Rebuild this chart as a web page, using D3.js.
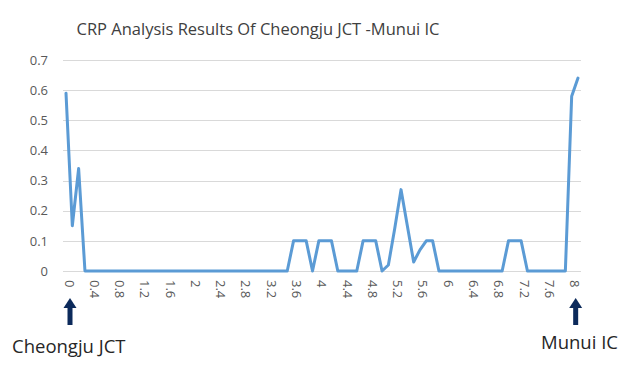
<!DOCTYPE html>
<html>
<head>
<meta charset="utf-8">
<script src="https://cdn.jsdelivr.net/npm/d3@7"></script>
<style>
  html, body { margin: 0; padding: 0; background: #fff; }
  svg { display: block; font-family: "Open Sans", "Noto Sans", sans-serif; }
</style>
</head>
<body>
<svg id="chart" width="632" height="366"></svg>
<script>
const title = "CRP Analysis Results Of Cheongju JCT -Munui IC";

const categories = [
  "0","0.1","0.2","0.3","0.4","0.5","0.6","0.7","0.8","0.9",
  "1","1.1","1.2","1.3","1.4","1.5","1.6","1.7","1.8","1.9",
  "2","2.1","2.2","2.3","2.4","2.5","2.6","2.7","2.8","2.9",
  "3","3.1","3.2","3.3","3.4","3.5","3.6","3.7","3.8","3.9",
  "4","4.1","4.2","4.3","4.4","4.5","4.6","4.7","4.8","4.9",
  "5","5.1","5.2","5.3","5.4","5.5","5.6","5.7","5.8","5.9",
  "6","6.1","6.2","6.3","6.4","6.5","6.6","6.7","6.8","6.9",
  "7","7.1","7.2","7.3","7.4","7.5","7.6","7.7","7.8","7.9",
  "8","8.1"
];

const crpValues = [
  0.59,0.15,0.34,0,0,0,0,0,0,0,
  0,0,0,0,0,0,0,0,0,0,
  0,0,0,0,0,0,0,0,0,0,
  0,0,0,0,0,0,0.1,0.1,0.1,0,
  0.1,0.1,0.1,0,0,0,0,0.1,0.1,0.1,
  0,0.02,0.14,0.27,0.15,0.03,0.07,0.1,0.1,0,
  0,0,0,0,0,0,0,0,0,0,
  0.1,0.1,0.1,0,0,0,0,0,0,0,
  0.58,0.64
];

const xTickLabels = ["0","0.4","0.8","1.2","1.6","2","2.4","2.8","3.2","3.6","4",
                     "4.4","4.8","5.2","5.6","6","6.4","6.8","7.2","7.6","8"];

const yTicks = [0, 0.1, 0.2, 0.3, 0.4, 0.5, 0.6, 0.7];

const endpointLabels = [
  { cat: "0", text: "Cheongju JCT" },
  { cat: "8", text: "Munui IC" }
];

const svg = d3.select("#chart");

const x = d3.scalePoint().domain(categories).range([66, 578]);
const y = d3.scaleLinear().domain([0, 0.7]).range([271, 60]);

// gridlines
svg.append("g")
  .selectAll("line")
  .data(yTicks)
  .join("line")
  .attr("x1", 63).attr("x2", 581)
  .attr("y1", d => Math.round(y(d)) + 0.5)
  .attr("y2", d => Math.round(y(d)) + 0.5)
  .attr("stroke", "#d9d9d9")
  .attr("stroke-width", 1);

// y axis labels
const yAxis = d3.axisLeft(y).tickValues(yTicks).tickSize(0).tickPadding(0)
  .tickFormat(d => d3.format("~g")(+d.toFixed(1)));
const gy = svg.append("g").attr("transform", "translate(48,0)").call(yAxis);
gy.select(".domain").remove();
gy.selectAll("text")
  .attr("fill", "#595959")
  .style("font-size", "13px")
  .style("font-family", "'Open Sans', 'Noto Sans', sans-serif");

// x axis labels (rotated)
const xAxis = d3.axisBottom(x).tickValues(xTickLabels).tickSize(0).tickPadding(0);
const gx = svg.append("g").attr("transform", "translate(0,280)").call(xAxis);
gx.select(".domain").remove();
gx.selectAll("text")
  .attr("y", 0)
  .attr("dy", null)
  .attr("x", 0)
  .attr("transform", "translate(3,0) rotate(90)")
  .attr("text-anchor", "start")
  .attr("dominant-baseline", "central")
  .attr("fill", "#595959")
  .style("font-size", "13px")
  .style("font-family", "'Open Sans', 'Noto Sans', sans-serif");

// line
const line = d3.line()
  .x((d, i) => x(categories[i]))
  .y(d => y(d));

svg.append("path")
  .datum(crpValues)
  .attr("d", line)
  .attr("fill", "none")
  .attr("stroke", "#5b9bd5")
  .attr("stroke-width", 3)
  .attr("stroke-linejoin", "round")
  .attr("stroke-linecap", "round");

// title
svg.append("text")
  .attr("x", 258)
  .attr("y", 35)
  .attr("text-anchor", "middle")
  .attr("fill", "#404040")
  .style("font-size", "16.5px")
  .text(title);

// arrows and endpoint labels
const arrowG = svg.append("g");
endpointLabels.forEach(e => {
  const cx = x(e.cat) + 4;
  arrowG.append("rect")
    .attr("x", cx - 2.5).attr("y", 305)
    .attr("width", 5).attr("height", 20)
    .attr("fill", "#0c2a5b");
  arrowG.append("path")
    .attr("d", `M${cx - 6.5},${308} L${cx},${298} L${cx + 6.5},${308} Z`)
    .attr("fill", "#0c2a5b");
});

svg.append("text")
  .attr("x", 12).attr("y", 353)
  .attr("fill", "#262626")
  .style("font-size", "18.5px")
  .text(endpointLabels[0].text);

svg.append("text")
  .attr("x", 618).attr("y", 349)
  .attr("text-anchor", "end")
  .attr("fill", "#262626")
  .style("font-size", "18.5px")
  .text(endpointLabels[1].text);
</script>
</body>
</html>
